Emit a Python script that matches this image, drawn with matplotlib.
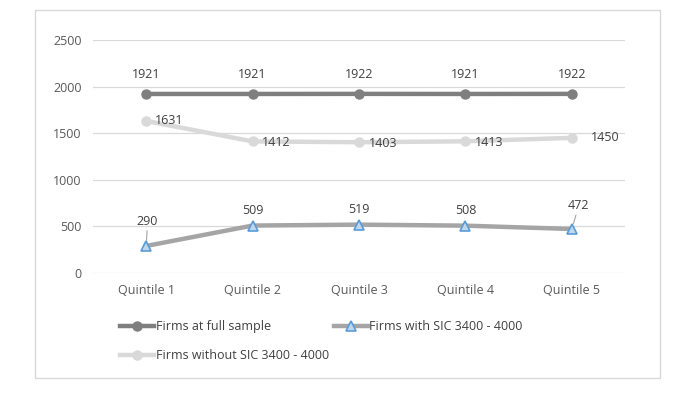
import numpy as np
import matplotlib.pyplot as plt
from matplotlib.patches import Rectangle

# data
quintiles = ['Quintile 1', 'Quintile 2', 'Quintile 3', 'Quintile 4', 'Quintile 5']
full_sample = [1921, 1921, 1922, 1921, 1922]
with_sic = [290, 509, 519, 508, 472]
without_sic = [1631, 1412, 1403, 1413, 1450]

plt.rcParams['font.family'] = ['Open Sans', 'DejaVu Sans']
txt = '#404040'
tick_col = '#595959'

fig = plt.figure(figsize=(6.94, 3.95), dpi=100)
ax = fig.add_axes([93 / 694, 1 - 273 / 395, (625 - 93) / 694, (273 - 40) / 395])

x = np.arange(len(quintiles))
l_full, = ax.plot(x, full_sample, color='#7f7f7f', lw=3.2, marker='o', ms=6.5,
                  label='Firms at full sample', zorder=3)
l_with, = ax.plot(x, with_sic, color='#a5a5a5', lw=3.2, marker='^', ms=6.5,
                  mfc='#bdd7ee', mec='#5b9bd5', mew=1.2,
                  label='Firms with SIC 3400 - 4000', zorder=3)
l_wo, = ax.plot(x, without_sic, color='#d9d9d9', lw=3.2, marker='o', ms=6.5,
                label='Firms without SIC 3400 - 4000', zorder=3)

# data labels
for xi, v in zip(x, full_sample):
    ax.annotate(str(v), (xi, v), xytext=(0, 9), textcoords='offset points',
                ha='center', va='bottom', fontsize=9, color=txt)
for xi, v in zip(x, without_sic):
    if xi == 0:
        off = (6, 0)
    elif xi == 4:
        off = (14, 0)
    else:
        off = (7, -1)
    ax.annotate(str(v), (xi, v), xytext=off, textcoords='offset points',
                ha='left', va='center', fontsize=9, color=txt)
for xi, v in zip(x, with_sic):
    if xi == 0:
        ax.annotate(str(v), (xi, v), xytext=(1, 13), textcoords='offset points',
                    ha='center', va='bottom', fontsize=9, color=txt,
                    arrowprops=dict(arrowstyle='-', color='#a5a5a5', lw=0.8,
                                    shrinkA=0, shrinkB=4))
    elif xi == 4:
        ax.annotate(str(v), (xi, v), xytext=(5, 12), textcoords='offset points',
                    ha='center', va='bottom', fontsize=9, color=txt,
                    arrowprops=dict(arrowstyle='-', color='#a5a5a5', lw=0.8,
                                    shrinkA=0, shrinkB=4))
    else:
        ax.annotate(str(v), (xi, v), xytext=(0, 6), textcoords='offset points',
                    ha='center', va='bottom', fontsize=9, color=txt)

ax.set_xlim(-0.5, 4.5)
ax.set_ylim(0, 2500)
ax.set_yticks([0, 500, 1000, 1500, 2000, 2500])
ax.set_xticks(x)
ax.set_xticklabels(quintiles)
ax.tick_params(length=0, labelsize=9, labelcolor=tick_col, pad=8)
ax.grid(axis='y', color='#d9d9d9', lw=0.9)
ax.set_axisbelow(True)
for s in ax.spines.values():
    s.set_visible(False)

# order so the rows read: full sample, with SIC / without SIC
fig.legend([l_full, l_wo, l_with], [l_full.get_label(), l_wo.get_label(), l_with.get_label()],
           loc='upper left', bbox_to_anchor=(115 / 694, 1 - 315 / 395),
           ncol=2, frameon=False, fontsize=9, labelcolor=txt, handlelength=2.7,
           handletextpad=0.15, columnspacing=0.4, labelspacing=1.3, borderaxespad=0)

fig.patches.append(Rectangle((35 / 694, 1 - 378 / 395), (660 - 35) / 694, (378 - 10) / 395,
                             transform=fig.transFigure, fill=False, ec='#d9d9d9', lw=1))

fig.savefig('out.png', dpi=100, facecolor='white')
